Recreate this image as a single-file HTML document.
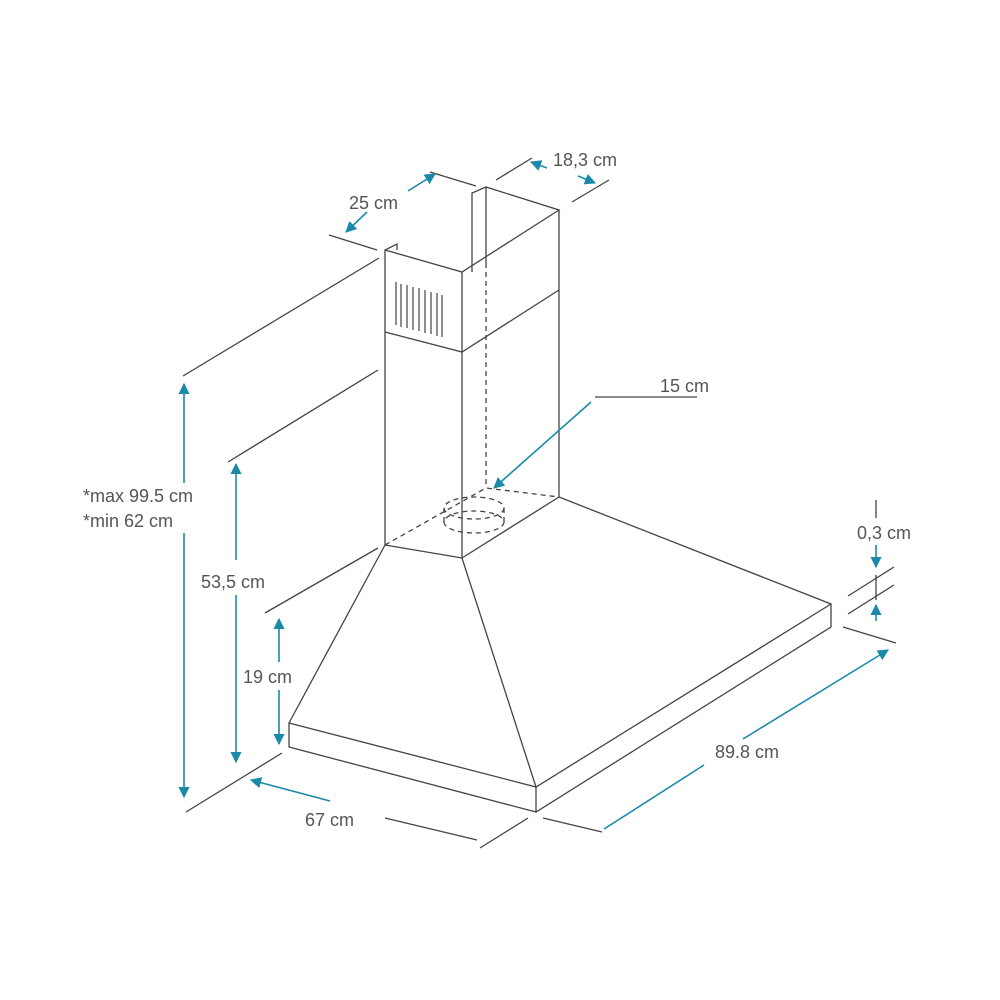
<!DOCTYPE html>
<html><head><meta charset="utf-8"><style>
html,body{margin:0;padding:0;background:#fff}
svg{display:block}
text{font-family:"Liberation Sans",sans-serif;font-size:18px;fill:#555}
</style></head><body>
<svg width="1000" height="1000" viewBox="0 0 1000 1000">
<defs>
<marker id="a" viewBox="0 0 10 10" refX="9" refY="5" markerWidth="7" markerHeight="7" orient="auto-start-reverse"><path d="M0,0 L10,5 L0,10 z" fill="#1a8aa8"/></marker>
</defs>
<g stroke="#444" stroke-width="1.3" fill="none">
<polyline points="385,545 385,250 397,244 397,250"/>
<polyline points="385,250 462,272 559,210 486,187 472,193 472,272"/>
<line x1="486" y1="187" x2="486" y2="268"/>
<line x1="462" y1="272" x2="462" y2="558"/>
<line x1="559" y1="210" x2="559" y2="497"/>
<polyline points="385,332 462,352 559,290"/>
<polyline points="385,545 462,558 559,497"/>
<g stroke-width="1.2">
<line x1="396" y1="282" x2="396" y2="325"/><line x1="401" y1="284" x2="401" y2="327"/>
<line x1="407" y1="285" x2="407" y2="328"/><line x1="413" y1="287" x2="413" y2="330"/>
<line x1="419" y1="288" x2="419" y2="331"/><line x1="425" y1="290" x2="425" y2="333"/>
<line x1="431" y1="292" x2="431" y2="334"/><line x1="437" y1="293" x2="437" y2="336"/>
<line x1="442" y1="295" x2="442" y2="337"/>
</g>
<polyline points="385,545 289,723 289,747 536,812 831,627 831,604 559,497"/>
<polyline points="289,723 536,787 831,604"/>
<line x1="536" y1="787" x2="536" y2="812"/>
<line x1="462" y1="558" x2="536" y2="787"/>
<g stroke-dasharray="5,4">
<line x1="486" y1="272" x2="486" y2="488"/>
<polyline points="385,545 486,488 559,497"/>
<ellipse cx="474" cy="508" rx="30" ry="11"/>
<ellipse cx="474" cy="522" rx="30" ry="11"/>
<line x1="444" y1="508" x2="444" y2="522"/><line x1="504" y1="508" x2="504" y2="522"/>
</g>
<line x1="183" y1="376" x2="379" y2="258"/>
<line x1="228" y1="462" x2="378" y2="370"/>
<line x1="265" y1="613" x2="378" y2="548"/>
<line x1="186" y1="812" x2="282" y2="753"/>
<line x1="385" y1="818" x2="477" y2="840"/>
<line x1="480" y1="848" x2="528" y2="818"/>
<line x1="543" y1="818" x2="602" y2="832"/>
<line x1="843" y1="627" x2="896" y2="643"/>
<line x1="848" y1="596" x2="894" y2="567"/>
<line x1="848" y1="614" x2="894" y2="585"/>
<line x1="876" y1="500" x2="876" y2="518"/>
<line x1="876" y1="575" x2="876" y2="600"/>
<line x1="595" y1="397" x2="697" y2="397"/>
<line x1="329" y1="235" x2="377" y2="250"/>
<line x1="430" y1="172" x2="476" y2="186"/>
<line x1="496" y1="180" x2="532" y2="158"/>
<line x1="572" y1="202" x2="609" y2="180"/>
</g>
<g stroke="#1a8aa8" stroke-width="1.6" fill="none">
<line x1="184" y1="483" x2="184" y2="384" marker-end="url(#a)"/>
<line x1="184" y1="533" x2="184" y2="797" marker-end="url(#a)"/>
<line x1="236" y1="560" x2="236" y2="464" marker-end="url(#a)"/>
<line x1="236" y1="595" x2="236" y2="762" marker-end="url(#a)"/>
<line x1="279" y1="662" x2="279" y2="619" marker-end="url(#a)"/>
<line x1="279" y1="690" x2="279" y2="744" marker-end="url(#a)"/>
<line x1="330" y1="801" x2="251" y2="780" marker-end="url(#a)"/>
<line x1="604" y1="829" x2="704" y2="765"/>
<line x1="743" y1="739" x2="888" y2="650" marker-end="url(#a)"/>
<line x1="876" y1="545" x2="876" y2="567" marker-end="url(#a)"/>
<line x1="876" y1="621" x2="876" y2="605" marker-end="url(#a)"/>
<line x1="591" y1="402" x2="494" y2="488" marker-end="url(#a)"/>
<line x1="408" y1="191" x2="435" y2="174" marker-end="url(#a)"/>
<line x1="367" y1="212" x2="346" y2="232" marker-end="url(#a)"/>
<line x1="547" y1="168" x2="531" y2="162" marker-end="url(#a)"/>
<line x1="578" y1="176" x2="595" y2="183" marker-end="url(#a)"/>
</g>
<text x="349" y="209">25 cm</text>
<text x="553" y="166">18,3 cm</text>
<text x="660" y="392">15 cm</text>
<text x="83" y="502">*max 99.5 cm</text>
<text x="83" y="527">*min 62 cm</text>
<text x="201" y="588">53,5 cm</text>
<text x="243" y="683">19 cm</text>
<text x="305" y="826">67 cm</text>
<text x="715" y="758">89.8 cm</text>
<text x="857" y="539">0,3 cm</text>
</svg>
</body></html>
